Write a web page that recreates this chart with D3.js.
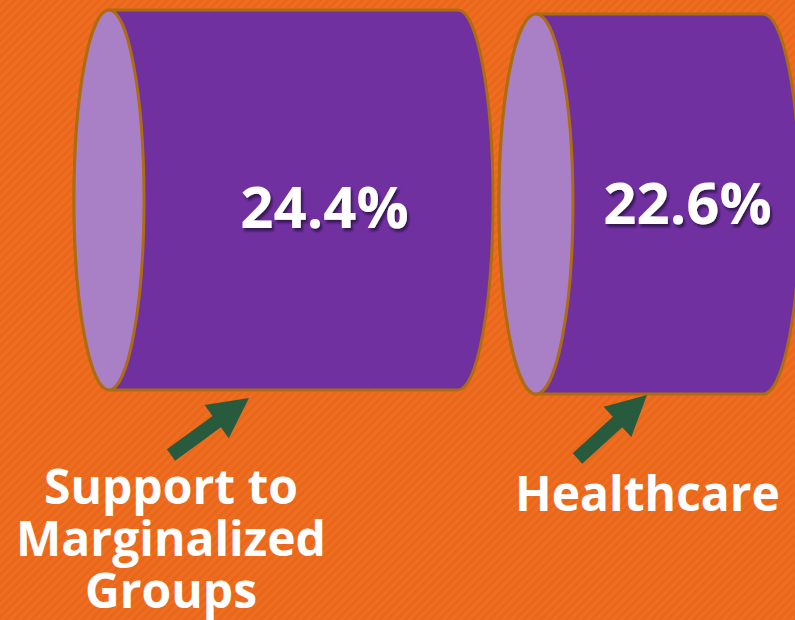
<!DOCTYPE html>
<html>
<head>
<meta charset="utf-8">
<script src="https://cdn.jsdelivr.net/npm/d3@7"></script>
<style>
  html, body { margin: 0; padding: 0; background: #ea671d; overflow: hidden; }
  text { font-family: "Open Sans", sans-serif; font-weight: 700; fill: #fff; text-anchor: middle; }
</style>
</head>
<body>
<div id="chart"></div>
<script>
// Data

var categories = ['Support to Marginalized Groups', 'Healthcare'];
var values = [24.4, 22.6];
var labelLines = [['Support to', 'Marginalized', 'Groups'], ['Healthcare']];

// Dimensions

var width = 795;
var height = 620;

// slot layout for the two cylinders
var slots = [
  { left: 109, top: 10, rx: 35, valueX: 324.5, valueY: 228, labelX: 171, labelY: 504, tip: [249, 398], tail: [171, 455] },
  { left: 536, top: 14, rx: 37, valueX: 687.5, valueY: 224, labelX: 647.5, labelY: 511, tip: [647, 395], tail: [577.5, 458.5] }
];

// the source picture does not draw length in proportion, so map between its two lengths
var length = d3.scaleLinear().domain([22.6, 24.4]).range([227, 349]);
var bodyHeight = 380;

var svg = d3.select('#chart').append('svg')
    .attr('width', width)
    .attr('height', height)
    .style('display', 'block');

var defs = svg.append('defs');

var stripes = defs.append('pattern')
    .attr('id', 'stripes')
    .attr('width', 6)
    .attr('height', 6)
    .attr('patternUnits', 'userSpaceOnUse')
    .attr('patternTransform', 'rotate(45)');
stripes.append('rect').attr('width', 6).attr('height', 6).attr('fill', '#e9661c');
stripes.append('rect').attr('width', 3).attr('height', 6).attr('fill', '#ee6e1f');

var shadow = defs.append('filter').attr('id', 'shadow')
    .attr('x', '-10%').attr('y', '-10%').attr('width', '120%').attr('height', '130%');
shadow.append('feDropShadow')
    .attr('dx', 2).attr('dy', 3).attr('stdDeviation', 1.2)
    .attr('flood-color', '#2c1145').attr('flood-opacity', 0.8);

svg.append('rect')
    .attr('width', width)
    .attr('height', height)
    .attr('fill', 'url(#stripes)');

// Cylinders

var cylinder = svg.selectAll('g.cylinder')
    .data(values)
    .enter().append('g')
    .attr('class', 'cylinder')
    .attr('aria-label', function(d, i) { return categories[i]; });

cylinder.append('path')
    .attr('d', function(d, i) {
      var s = slots[i], ry = bodyHeight / 2, len = length(d);
      return 'M' + s.left + ',' + s.top +
        'H' + (s.left + len) +
        'A' + s.rx + ',' + ry + ' 0 0 1 ' + (s.left + len) + ',' + (s.top + bodyHeight) +
        'H' + s.left +
        'A' + s.rx + ',' + ry + ' 0 0 1 ' + s.left + ',' + s.top + 'Z';
    })
    .attr('fill', '#7030a0')
    .attr('stroke', '#ad6b12')
    .attr('stroke-width', 3);

cylinder.append('ellipse')
    .attr('cx', function(d, i) { return slots[i].left; })
    .attr('cy', function(d, i) { return slots[i].top + bodyHeight / 2; })
    .attr('rx', function(d, i) { return slots[i].rx; })
    .attr('ry', bodyHeight / 2)
    .attr('fill', '#a97fc6')
    .attr('stroke', '#ad6b12')
    .attr('stroke-width', 3);

// Arrows

var headLen = 40, headWidth = 41, shaftWidth = 14;

svg.selectAll('path.arrow')
    .data(slots)
    .enter().append('path')
    .attr('class', 'arrow')
    .attr('fill', '#285a3d')
    .attr('d', function(s) {
      var dx = s.tip[0] - s.tail[0], dy = s.tip[1] - s.tail[1];
      var len = Math.sqrt(dx * dx + dy * dy);
      return d3.line()([
        [0, -shaftWidth / 2], [len - headLen, -shaftWidth / 2], [len - headLen, -headWidth / 2],
        [len, 0],
        [len - headLen, headWidth / 2], [len - headLen, shaftWidth / 2], [0, shaftWidth / 2]
      ]) + 'Z';
    })
    .attr('transform', function(s) {
      var a = Math.atan2(s.tip[1] - s.tail[1], s.tip[0] - s.tail[0]) * 180 / Math.PI;
      return 'translate(' + s.tail + ') rotate(' + a + ')';
    });

// Value labels

svg.selectAll('text.value')
    .data(values)
    .enter().append('text')
    .attr('class', 'value')
    .attr('x', function(d, i) { return slots[i].valueX; })
    .attr('y', function(d, i) { return slots[i].valueY; })
    .attr('font-size', 58)
    .attr('filter', 'url(#shadow)')
    .text(function(d) { return d3.format('.1f')(d) + '%'; });

// Category labels

labelLines.forEach(function(lines, i) {
  svg.selectAll('text.label' + i)
      .data(lines)
      .enter().append('text')
      .attr('class', 'label' + i)
      .attr('x', slots[i].labelX)
      .attr('y', function(d, j) { return slots[i].labelY + j * 52; })
      .attr('font-size', 48)
      .text(function(d) { return d; });
});
</script>
</body>
</html>
